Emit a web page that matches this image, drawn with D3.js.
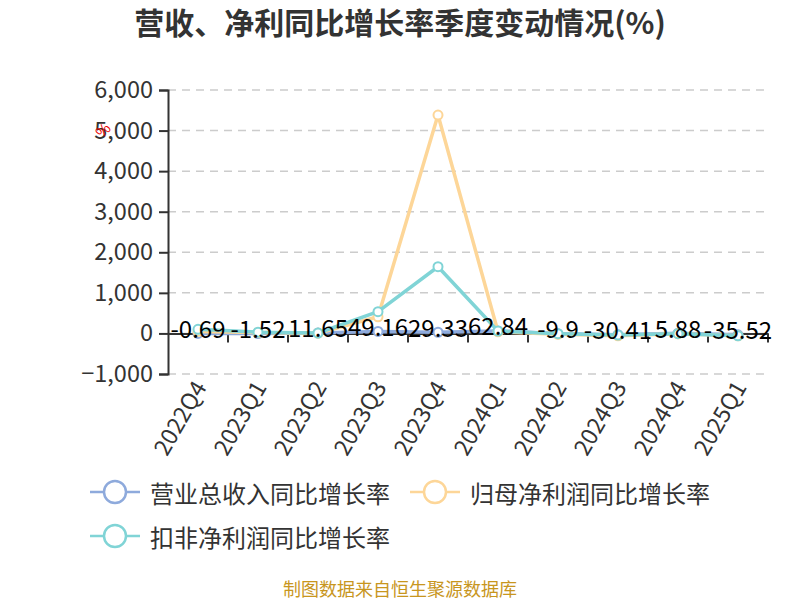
<!DOCTYPE html>
<html><head><meta charset="utf-8">
<script src="https://cdn.jsdelivr.net/npm/d3@7/dist/d3.min.js"></script>
<style>body{margin:0;background:#fff;} text{font-family:"Noto Sans CJK SC","Open Sans",sans-serif;}</style>
</head><body><svg id="c" width="800" height="600"></svg>
<script>
const categories = ["2022Q4","2023Q1","2023Q2","2023Q3","2023Q4","2024Q1","2024Q2","2024Q3","2024Q4","2025Q1"];
const revenueGrowth = [-0.69,-1.52,11.65,49.16,29.33,62.84,-9.9,-30.41,5.88,-35.52];
const netProfitGrowth = [50,20,5,411,5383,40,-20,-60,-10,-60];
const deductedProfitGrowth = [100,30,10,535,1644,60,-5,-40,-5,-60];
const seriesNames = ["营业总收入同比增长率","归母净利润同比增长率","扣非净利润同比增长率"];
const yTicks = [-1000,0,1000,2000,3000,4000,5000,6000];
const colors = ["#8eaadc","#fdd698","#80d4d6"];

const svg = d3.select("#c");
const L = 168, R = 768, T = 90, B = 374;
const x = d3.scaleBand().domain(categories).range([L,R]);
const y = d3.scaleLinear().domain([-1000,6000]).range([B,T]);
const cx = d => x(d) + x.bandwidth()/2;
const numFont = "'Open Sans',sans-serif";

// title
svg.append("text").attr("x",400).attr("y",34).attr("text-anchor","middle")
  .attr("font-size",30).attr("font-weight","bold").attr("fill","#333").text("营收、净利同比增长率季度变动情况(%)");

// grid
svg.append("g").selectAll("line").data(yTicks).join("line")
  .attr("x1",L).attr("x2",R).attr("y1",d=>y(d)).attr("y2",d=>y(d))
  .attr("stroke","#ccc").attr("stroke-width",1.5).attr("stroke-dasharray","8,6");

// y axis
const ya = svg.append("g").attr("transform",`translate(${L},0)`)
  .call(d3.axisLeft(y).tickValues(yTicks).tickSize(9).tickPadding(6).tickFormat(d3.format(",")));
ya.select(".domain").attr("stroke","#333").attr("stroke-width",2);
ya.selectAll(".tick line").attr("stroke","#333").attr("stroke-width",2);
ya.selectAll("text").attr("font-size",23.5).attr("fill","#333").attr("font-family",numFont);

// unit mark
svg.append("text").attr("transform","translate(107,134) rotate(-45)").attr("text-anchor","middle")
  .attr("font-size",15).attr("fill","#e00").attr("font-family",numFont).text("%");

// x axis at zero
const xa = svg.append("g").attr("transform",`translate(0,${y(0)})`)
  .call(d3.axisBottom(x).tickSize(0).tickFormat(""));
xa.select(".domain").attr("stroke","#333").attr("stroke-width",2);
svg.append("g").selectAll("line").data(categories).join("line")
  .attr("x1",d=>x(d)+x.bandwidth()).attr("x2",d=>x(d)+x.bandwidth())
  .attr("y1",y(0)).attr("y2",y(0)+9).attr("stroke","#333").attr("stroke-width",2);

// x labels
svg.append("g").selectAll("text").data(categories).join("text")
  .attr("transform",d=>`translate(${cx(d)+4},${B+10}) rotate(-60)`)
  .attr("text-anchor","end").attr("dominant-baseline","middle")
  .attr("font-size",23).attr("fill","#333").attr("font-family",numFont).text(d=>d);

// lines
const all = [revenueGrowth, netProfitGrowth, deductedProfitGrowth];
const line = d3.line().x((d,i)=>cx(categories[i])).y(d=>y(d));
all.forEach((vals,k)=>{
  svg.append("path").datum(vals).attr("d",line).attr("fill","none")
    .attr("stroke",colors[k]).attr("stroke-width",3.5).attr("stroke-linejoin","round");
  svg.append("g").selectAll("circle").data(vals).join("circle")
    .attr("cx",(d,i)=>cx(categories[i])).attr("cy",d=>y(d)).attr("r",4.5)
    .attr("fill","#fff").attr("stroke",colors[k]).attr("stroke-width",2);
});

// labels of revenue series
svg.append("g").selectAll("text").data(revenueGrowth).join("text")
  .attr("x",(d,i)=>cx(categories[i])).attr("y",d=>y(d)-2)
  .attr("text-anchor","middle").attr("dominant-baseline","middle")
  .attr("font-size",24).attr("fill","#000").attr("font-family",numFont).text(d=>d);

// legend
const legendPos = [[90,492],[410,492],[90,536]];
seriesNames.forEach((n,k)=>{
  const [lx,ly] = legendPos[k];
  const g = svg.append("g");
  g.append("line").attr("x1",lx).attr("x2",lx+50).attr("y1",ly).attr("y2",ly).attr("stroke",colors[k]).attr("stroke-width",2.5);
  g.append("circle").attr("cx",lx+25).attr("cy",ly).attr("r",11).attr("fill","#fff").attr("stroke",colors[k]).attr("stroke-width",2.5);
  g.append("text").attr("x",lx+60).attr("y",ly).attr("dominant-baseline","central")
    .attr("font-size",24).attr("fill","#333").text(n);
});

// footer
svg.append("text").attr("x",400).attr("y",596).attr("text-anchor","middle")
  .attr("font-size",18).attr("fill","#c8961e").text("制图数据来自恒生聚源数据库");
</script></body></html>
